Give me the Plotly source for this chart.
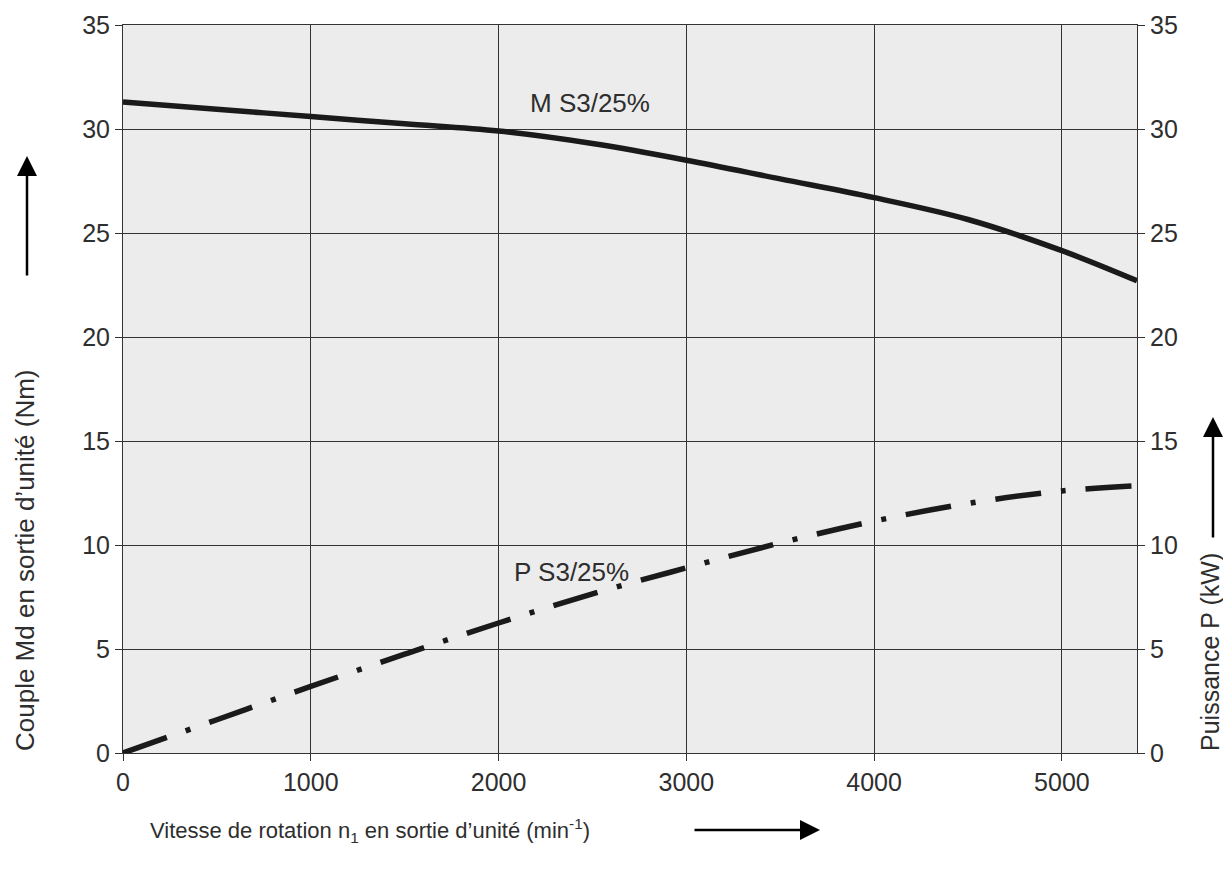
import plotly.graph_objects as go

# Data
speed_m = [0, 500, 1000, 1500, 2000, 2500, 3000, 3500, 4000, 4500, 5000, 5400]
torque = [31.3, 30.95, 30.6, 30.25, 29.9, 29.3, 28.5, 27.6, 26.7, 25.65, 24.15, 22.7]

speed_p = [0, 500, 1000, 1500, 2000, 2500, 3000, 3500, 4000, 4500, 5000, 5400]
power = [0, 1.6, 3.2, 4.75, 6.25, 7.65, 8.9, 10.1, 11.15, 12.0, 12.6, 12.85]

x_ticks = [0, 1000, 2000, 3000, 4000, 5000]
y_ticks = [0, 5, 10, 15, 20, 25, 30, 35]

FONT = "Liberation Sans, Arial, Helvetica, sans-serif"
TXT = "#2e2e2e"

# page has an 8px body margin; compensate so the plot area sits at 123..1137 x 25..753
W, H = 1223, 864
PL, PT = 115, 17
PR, PB = 94, 119

fig = go.Figure()
fig.add_trace(go.Scatter(x=speed_m, y=torque, mode="lines",
                         line=dict(color="#1a1a1a", width=5.5, shape="spline"),
                         showlegend=False, yaxis="y"))
fig.add_trace(go.Scatter(x=speed_p, y=power, mode="lines",
                         line=dict(color="#1a1a1a", width=5.5, shape="spline",
                                   dash="46px,20px,5px,20px"),
                         showlegend=False, yaxis="y2"))

axis_common = dict(gridcolor="#333333", gridwidth=1,
                   showline=True, linecolor="#333333", linewidth=1,
                   ticks="outside", ticklen=7, tickcolor="#333333",
                   tickfont=dict(family=FONT, size=25, color=TXT),
                   zeroline=False)

fig.update_layout(
    width=W, height=H,
    margin=dict(l=PL, r=PR, t=PT, b=PB, autoexpand=False),
    plot_bgcolor="#ececec", paper_bgcolor="white",
    xaxis=dict(range=[0, 5400], tickvals=x_ticks, mirror=True, showgrid=True, **axis_common),
    yaxis=dict(range=[0, 35], tickvals=y_ticks, showgrid=True, **axis_common),
    yaxis2=dict(range=[0, 35], tickvals=y_ticks, overlaying="y", side="right",
                showgrid=False, **axis_common),
)

# Curve labels
fig.add_annotation(x=2488, y=31.25, xref="x", yref="y", text="M S3/25%",
                   showarrow=False, font=dict(family=FONT, size=26, color=TXT))
fig.add_annotation(x=2387, y=8.7, xref="x", yref="y", text="P S3/25%",
                   showarrow=False, font=dict(family=FONT, size=26, color=TXT))

# Axis titles
fig.add_annotation(x=(25 - 123) / 1014, y=0.0, xref="paper", yref="paper",
                   text="Couple Md en sortie d\u2019unité (Nm)", textangle=-90,
                   xanchor="center", yanchor="bottom", showarrow=False,
                   font=dict(family=FONT, size=26, color=TXT))
fig.add_annotation(x=(1210 - 123) / 1014, y=0.0, xref="paper", yref="paper",
                   text="Puissance P (kW)", textangle=-90,
                   xanchor="center", yanchor="bottom", showarrow=False,
                   font=dict(family=FONT, size=25, color=TXT))
fig.add_annotation(x=(148 - 123) / 1014, y=-(830 - 753) / 728, xref="paper", yref="paper",
                   text="Vitesse de rotation n<sub>1</sub> en sortie d\u2019unité (min<sup>-1</sup>)",
                   xanchor="left", yanchor="middle", showarrow=False,
                   font=dict(family=FONT, size=22, color=TXT))

# Arrows
arrow = dict(showarrow=True, arrowhead=2, arrowsize=1.6, arrowwidth=2.5,
             arrowcolor="black", text="", xref="paper", yref="paper", standoff=0)
fig.add_annotation(x=(27 - 123) / 1014, y=(753 - 156) / 728, ax=0, ay=121, **arrow)
fig.add_annotation(x=(1213 - 123) / 1014, y=(753 - 417) / 728, ax=0, ay=122, **arrow)
fig.add_annotation(x=(820 - 123) / 1014, y=-(830 - 753) / 728, ax=-127, ay=0, **arrow)

fig.write_html("out.html")
